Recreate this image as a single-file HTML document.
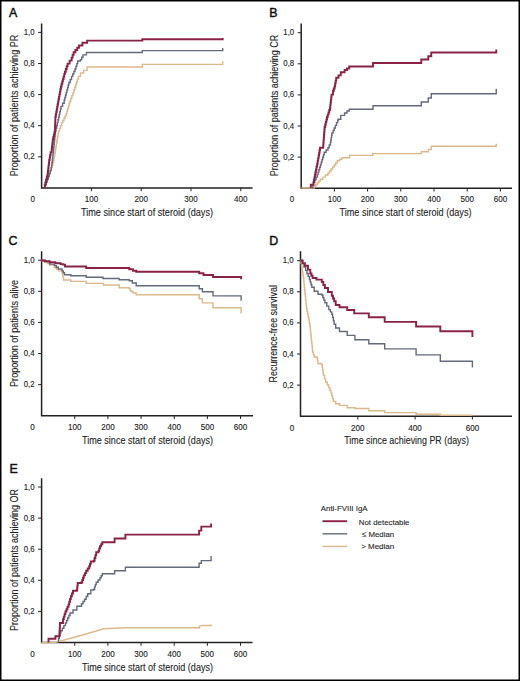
<!DOCTYPE html>
<html><head><meta charset="utf-8"><style>
html,body{margin:0;padding:0;background:#fff;}
body{width:520px;height:681px;overflow:hidden;}
svg{display:block;}
text{font-family:"Liberation Sans", sans-serif;fill:#222;}
.tk{font-size:8.5px;stroke:#222;stroke-width:0.12px;}
.ti{font-size:10.4px;stroke:#222;stroke-width:0.1px;}
.lt{font-size:12.4px;fill:#111;stroke:#111;stroke-width:0.45px;}
.lg{font-size:7.95px;stroke:#222;stroke-width:0.1px;}
</style></head><body>
<svg width="520" height="681" viewBox="0 0 520 681">
<rect x="0.75" y="0.75" width="518.5" height="679.5" fill="#fff" stroke="#000" stroke-width="1.5"/>
<path d="M41.6,23.4 V187.9 H252.5" fill="none" stroke="#222" stroke-width="1.5"/>
<path d="M38.1,156.80 H41.6" stroke="#222" stroke-width="1"/>
<text transform="translate(34.60,159.30) scale(0.92,1)" text-anchor="end" class="tk">0,2</text>
<path d="M38.1,125.70 H41.6" stroke="#222" stroke-width="1"/>
<text transform="translate(34.60,128.20) scale(0.92,1)" text-anchor="end" class="tk">0,4</text>
<path d="M38.1,94.60 H41.6" stroke="#222" stroke-width="1"/>
<text transform="translate(34.60,97.10) scale(0.92,1)" text-anchor="end" class="tk">0,6</text>
<path d="M38.1,63.50 H41.6" stroke="#222" stroke-width="1"/>
<text transform="translate(34.60,66.00) scale(0.92,1)" text-anchor="end" class="tk">0,8</text>
<path d="M38.1,32.40 H41.6" stroke="#222" stroke-width="1"/>
<text transform="translate(34.60,34.90) scale(0.92,1)" text-anchor="end" class="tk">1,0</text>
<path d="M91.40,187.9 V191.20000000000002" stroke="#222" stroke-width="1"/>
<text transform="translate(91.40,202.20) scale(0.95,1)" text-anchor="middle" class="tk">100</text>
<path d="M141.20,187.9 V191.20000000000002" stroke="#222" stroke-width="1"/>
<text transform="translate(141.20,202.20) scale(0.95,1)" text-anchor="middle" class="tk">200</text>
<path d="M191.00,187.9 V191.20000000000002" stroke="#222" stroke-width="1"/>
<text transform="translate(191.00,202.20) scale(0.95,1)" text-anchor="middle" class="tk">300</text>
<path d="M240.80,187.9 V191.20000000000002" stroke="#222" stroke-width="1"/>
<text transform="translate(240.80,202.20) scale(0.95,1)" text-anchor="middle" class="tk">400</text>
<text transform="translate(32.7,202.20) scale(0.95,1)" text-anchor="middle" class="tk">0</text>
<text x="81" y="215.5" class="ti" textLength="132" lengthAdjust="spacingAndGlyphs">Time since start of steroid (days)</text>
<text transform="translate(17.6,176.2) rotate(-90)" x="0" y="0" class="ti" textLength="141.39999999999998" lengthAdjust="spacingAndGlyphs">Proportion of patients achieving PR</text>
<text x="9.0" y="17.3" class="lt" style="font-size:12.4px">A</text>
<path d="M301.2,23.4 V188.2 H512" fill="none" stroke="#222" stroke-width="1.5"/>
<path d="M297.7,157.10 H301.2" stroke="#222" stroke-width="1"/>
<text transform="translate(294.20,159.60) scale(0.92,1)" text-anchor="end" class="tk">0,2</text>
<path d="M297.7,126.00 H301.2" stroke="#222" stroke-width="1"/>
<text transform="translate(294.20,128.50) scale(0.92,1)" text-anchor="end" class="tk">0,4</text>
<path d="M297.7,94.90 H301.2" stroke="#222" stroke-width="1"/>
<text transform="translate(294.20,97.40) scale(0.92,1)" text-anchor="end" class="tk">0,6</text>
<path d="M297.7,63.80 H301.2" stroke="#222" stroke-width="1"/>
<text transform="translate(294.20,66.30) scale(0.92,1)" text-anchor="end" class="tk">0,8</text>
<path d="M297.7,32.70 H301.2" stroke="#222" stroke-width="1"/>
<text transform="translate(294.20,35.20) scale(0.92,1)" text-anchor="end" class="tk">1,0</text>
<path d="M334.40,188.2 V191.5" stroke="#222" stroke-width="1"/>
<text transform="translate(334.40,202.10) scale(0.95,1)" text-anchor="middle" class="tk">100</text>
<path d="M367.60,188.2 V191.5" stroke="#222" stroke-width="1"/>
<text transform="translate(367.60,202.10) scale(0.95,1)" text-anchor="middle" class="tk">200</text>
<path d="M400.80,188.2 V191.5" stroke="#222" stroke-width="1"/>
<text transform="translate(400.80,202.10) scale(0.95,1)" text-anchor="middle" class="tk">300</text>
<path d="M434.00,188.2 V191.5" stroke="#222" stroke-width="1"/>
<text transform="translate(434.00,202.10) scale(0.95,1)" text-anchor="middle" class="tk">400</text>
<path d="M467.20,188.2 V191.5" stroke="#222" stroke-width="1"/>
<text transform="translate(467.20,202.10) scale(0.95,1)" text-anchor="middle" class="tk">500</text>
<path d="M500.40,188.2 V191.5" stroke="#222" stroke-width="1"/>
<text transform="translate(500.40,202.10) scale(0.95,1)" text-anchor="middle" class="tk">600</text>
<text transform="translate(292,202.10) scale(0.95,1)" text-anchor="middle" class="tk">0</text>
<text x="339.5" y="215.5" class="ti" textLength="132.0" lengthAdjust="spacingAndGlyphs">Time since start of steroid (days)</text>
<text transform="translate(277.6,176.2) rotate(-90)" x="0" y="0" class="ti" textLength="141.39999999999998" lengthAdjust="spacingAndGlyphs">Proportion of patients achieving CR</text>
<text x="269.2" y="17.3" class="lt" style="font-size:12.4px">B</text>
<path d="M41.6,251.3 V415.75 H253" fill="none" stroke="#222" stroke-width="1.5"/>
<path d="M38.1,384.65 H41.6" stroke="#222" stroke-width="1"/>
<text transform="translate(34.60,387.15) scale(0.92,1)" text-anchor="end" class="tk">0,2</text>
<path d="M38.1,353.55 H41.6" stroke="#222" stroke-width="1"/>
<text transform="translate(34.60,356.05) scale(0.92,1)" text-anchor="end" class="tk">0,4</text>
<path d="M38.1,322.45 H41.6" stroke="#222" stroke-width="1"/>
<text transform="translate(34.60,324.95) scale(0.92,1)" text-anchor="end" class="tk">0,6</text>
<path d="M38.1,291.35 H41.6" stroke="#222" stroke-width="1"/>
<text transform="translate(34.60,293.85) scale(0.92,1)" text-anchor="end" class="tk">0,8</text>
<path d="M38.1,260.25 H41.6" stroke="#222" stroke-width="1"/>
<text transform="translate(34.60,262.75) scale(0.92,1)" text-anchor="end" class="tk">1,0</text>
<path d="M74.76,415.75 V419.05" stroke="#222" stroke-width="1"/>
<text transform="translate(74.76,430.05) scale(0.95,1)" text-anchor="middle" class="tk">100</text>
<path d="M107.92,415.75 V419.05" stroke="#222" stroke-width="1"/>
<text transform="translate(107.92,430.05) scale(0.95,1)" text-anchor="middle" class="tk">200</text>
<path d="M141.08,415.75 V419.05" stroke="#222" stroke-width="1"/>
<text transform="translate(141.08,430.05) scale(0.95,1)" text-anchor="middle" class="tk">300</text>
<path d="M174.24,415.75 V419.05" stroke="#222" stroke-width="1"/>
<text transform="translate(174.24,430.05) scale(0.95,1)" text-anchor="middle" class="tk">400</text>
<path d="M207.40,415.75 V419.05" stroke="#222" stroke-width="1"/>
<text transform="translate(207.40,430.05) scale(0.95,1)" text-anchor="middle" class="tk">500</text>
<path d="M240.56,415.75 V419.05" stroke="#222" stroke-width="1"/>
<text transform="translate(240.56,430.05) scale(0.95,1)" text-anchor="middle" class="tk">600</text>
<text transform="translate(32.5,430.05) scale(0.95,1)" text-anchor="middle" class="tk">0</text>
<text x="82" y="444.2" class="ti" textLength="131" lengthAdjust="spacingAndGlyphs">Time since start of steroid (days)</text>
<text transform="translate(17.6,386.9) rotate(-90)" x="0" y="0" class="ti" textLength="106.89999999999998" lengthAdjust="spacingAndGlyphs">Proportion of patients alive</text>
<text x="8.6" y="245.4" class="lt" style="font-size:12.4px">C</text>
<path d="M300.5,251.3 V416.2 H512" fill="none" stroke="#222" stroke-width="1.5"/>
<path d="M297.0,385.10 H300.5" stroke="#222" stroke-width="1"/>
<text transform="translate(293.50,387.60) scale(0.92,1)" text-anchor="end" class="tk">0,2</text>
<path d="M297.0,354.00 H300.5" stroke="#222" stroke-width="1"/>
<text transform="translate(293.50,356.50) scale(0.92,1)" text-anchor="end" class="tk">0,4</text>
<path d="M297.0,322.90 H300.5" stroke="#222" stroke-width="1"/>
<text transform="translate(293.50,325.40) scale(0.92,1)" text-anchor="end" class="tk">0,6</text>
<path d="M297.0,291.80 H300.5" stroke="#222" stroke-width="1"/>
<text transform="translate(293.50,294.30) scale(0.92,1)" text-anchor="end" class="tk">0,8</text>
<path d="M297.0,260.70 H300.5" stroke="#222" stroke-width="1"/>
<text transform="translate(293.50,263.20) scale(0.92,1)" text-anchor="end" class="tk">1,0</text>
<path d="M357.80,416.2 V419.5" stroke="#222" stroke-width="1"/>
<text transform="translate(357.80,430.50) scale(0.95,1)" text-anchor="middle" class="tk">200</text>
<path d="M415.10,416.2 V419.5" stroke="#222" stroke-width="1"/>
<text transform="translate(415.10,430.50) scale(0.95,1)" text-anchor="middle" class="tk">400</text>
<path d="M472.40,416.2 V419.5" stroke="#222" stroke-width="1"/>
<text transform="translate(472.40,430.50) scale(0.95,1)" text-anchor="middle" class="tk">600</text>
<text transform="translate(292,430.50) scale(0.95,1)" text-anchor="middle" class="tk">0</text>
<text x="344.2" y="443.9" class="ti" textLength="124.80000000000001" lengthAdjust="spacingAndGlyphs">Time since achieving PR (days)</text>
<text transform="translate(277.4,382.5) rotate(-90)" x="0" y="0" class="ti" textLength="97.39999999999998" lengthAdjust="spacingAndGlyphs">Recurrence-free survival</text>
<text x="269.2" y="245.4" class="lt" style="font-size:12.4px">D</text>
<path d="M41.6,478.3 V642.5 H252.5" fill="none" stroke="#222" stroke-width="1.5"/>
<path d="M38.1,611.40 H41.6" stroke="#222" stroke-width="1"/>
<text transform="translate(34.60,613.90) scale(0.92,1)" text-anchor="end" class="tk">0,2</text>
<path d="M38.1,580.30 H41.6" stroke="#222" stroke-width="1"/>
<text transform="translate(34.60,582.80) scale(0.92,1)" text-anchor="end" class="tk">0,4</text>
<path d="M38.1,549.20 H41.6" stroke="#222" stroke-width="1"/>
<text transform="translate(34.60,551.70) scale(0.92,1)" text-anchor="end" class="tk">0,6</text>
<path d="M38.1,518.10 H41.6" stroke="#222" stroke-width="1"/>
<text transform="translate(34.60,520.60) scale(0.92,1)" text-anchor="end" class="tk">0,8</text>
<path d="M38.1,487.00 H41.6" stroke="#222" stroke-width="1"/>
<text transform="translate(34.60,489.50) scale(0.92,1)" text-anchor="end" class="tk">1,0</text>
<path d="M74.75,642.5 V645.8" stroke="#222" stroke-width="1"/>
<text transform="translate(74.75,656.80) scale(0.95,1)" text-anchor="middle" class="tk">100</text>
<path d="M107.90,642.5 V645.8" stroke="#222" stroke-width="1"/>
<text transform="translate(107.90,656.80) scale(0.95,1)" text-anchor="middle" class="tk">200</text>
<path d="M141.05,642.5 V645.8" stroke="#222" stroke-width="1"/>
<text transform="translate(141.05,656.80) scale(0.95,1)" text-anchor="middle" class="tk">300</text>
<path d="M174.20,642.5 V645.8" stroke="#222" stroke-width="1"/>
<text transform="translate(174.20,656.80) scale(0.95,1)" text-anchor="middle" class="tk">400</text>
<path d="M207.35,642.5 V645.8" stroke="#222" stroke-width="1"/>
<text transform="translate(207.35,656.80) scale(0.95,1)" text-anchor="middle" class="tk">500</text>
<path d="M240.50,642.5 V645.8" stroke="#222" stroke-width="1"/>
<text transform="translate(240.50,656.80) scale(0.95,1)" text-anchor="middle" class="tk">600</text>
<text transform="translate(32.5,656.80) scale(0.95,1)" text-anchor="middle" class="tk">0</text>
<text x="82" y="671.1" class="ti" textLength="131" lengthAdjust="spacingAndGlyphs">Time since start of steroid (days)</text>
<text transform="translate(17.6,631) rotate(-90)" x="0" y="0" class="ti" textLength="142" lengthAdjust="spacingAndGlyphs">Proportion of patients achieving OR</text>
<text x="9.6" y="472.6" class="lt" style="font-size:12.4px">E</text>
<path d="M44.20,187.50 L45.20,187.50 L45.20,184.75 L46.20,184.75 L46.20,182.00 L47.20,182.00 L47.20,179.25 L48.20,179.25 L48.20,176.50 L49.20,176.50 L49.20,173.53 L50.20,173.53 L50.20,170.57 L51.20,170.57 L51.20,167.60 L51.97,167.60 L51.97,165.27 L52.73,165.27 L52.73,162.93 L53.50,162.93 L53.50,160.60 L53.91,160.60 L53.91,158.14 L54.33,158.14 L54.33,155.69 L54.74,155.69 L54.74,153.23 L55.16,153.23 L55.16,150.77 L55.57,150.77 L55.57,148.31 L55.99,148.31 L55.99,145.86 L56.40,145.86 L56.40,143.40 L56.82,143.40 L56.82,140.94 L57.24,140.94 L57.24,138.48 L57.66,138.48 L57.66,136.02 L58.08,136.02 L58.08,133.56 L58.50,133.56 L58.50,131.10 L59.53,131.10 L59.53,128.37 L60.57,128.37 L60.57,125.63 L61.60,125.63 L61.60,122.90 L62.75,122.90 L62.75,120.58 L63.90,120.58 L63.90,118.25 L65.05,118.25 L65.05,115.92 L66.20,115.92 L66.20,113.60 L66.92,113.60 L66.92,111.14 L67.64,111.14 L67.64,108.68 L68.36,108.68 L68.36,106.22 L69.08,106.22 L69.08,103.76 L69.80,103.76 L69.80,101.30 L70.83,101.30 L70.83,98.47 L71.85,98.47 L71.85,95.65 L72.88,95.65 L72.88,92.83 L73.90,92.83 L73.90,90.00 L74.80,90.00 L74.80,87.28 L75.70,87.28 L75.70,84.56 L76.60,84.56 L76.60,81.84 L77.50,81.84 L77.50,79.12 L78.40,79.12 L78.40,76.40 L80.40,76.40 L80.40,73.00 L83.70,73.00 L83.70,70.40 L87.10,70.40 L87.10,67.00 L142.30,67.00 L142.30,64.40 L222.70,64.40 L222.70,61.30" fill="none" stroke="#dbb98a" stroke-width="1.4" stroke-linejoin="miter"/>
<path d="M44.20,187.50 L45.20,187.50 L45.20,184.75 L46.20,184.75 L46.20,182.00 L47.20,182.00 L47.20,179.25 L48.20,179.25 L48.20,176.50 L49.20,176.50 L49.20,173.53 L50.20,173.53 L50.20,170.57 L51.20,170.57 L51.20,167.60 L51.57,167.60 L51.57,165.07 L51.93,165.07 L51.93,162.53 L52.30,162.53 L52.30,160.00 L52.58,160.00 L52.58,157.37 L52.86,157.37 L52.86,154.75 L53.15,154.75 L53.15,152.12 L53.43,152.12 L53.43,149.49 L53.71,149.49 L53.71,146.86 L53.99,146.86 L53.99,144.24 L54.27,144.24 L54.27,141.61 L54.55,141.61 L54.55,138.98 L54.84,138.98 L54.84,136.35 L55.12,136.35 L55.12,133.73 L55.40,133.73 L55.40,131.10 L56.05,131.10 L56.05,128.28 L56.70,128.28 L56.70,125.45 L57.35,125.45 L57.35,122.62 L58.00,122.62 L58.00,119.80 L58.60,119.80 L58.60,117.12 L59.20,117.12 L59.20,114.44 L59.80,114.44 L59.80,111.76 L60.40,111.76 L60.40,109.08 L61.00,109.08 L61.00,106.40 L62.60,106.40 L62.60,103.20 L64.20,103.20 L64.20,100.00 L64.87,100.00 L64.87,97.50 L65.54,97.50 L65.54,95.00 L66.21,95.00 L66.21,92.50 L66.89,92.50 L66.89,90.00 L67.56,90.00 L67.56,87.50 L68.23,87.50 L68.23,85.00 L68.90,85.00 L68.90,82.50 L70.25,82.50 L70.25,79.45 L71.60,79.45 L71.60,76.40 L72.73,76.40 L72.73,73.93 L73.87,73.93 L73.87,71.47 L75.00,71.47 L75.00,69.00 L75.90,69.00 L75.90,66.33 L76.80,66.33 L76.80,63.67 L77.70,63.67 L77.70,61.00 L80.40,61.00 L80.40,59.60 L81.70,59.60 L81.70,57.25 L83.00,57.25 L83.00,54.90 L86.40,54.90 L86.40,52.50 L142.30,52.50 L142.30,50.60 L222.70,50.60 L222.70,48.00" fill="none" stroke="#636b7a" stroke-width="1.4" stroke-linejoin="miter"/>
<path d="M44.20,187.50 L44.75,187.50 L44.75,184.95 L45.30,184.95 L45.30,182.40 L46.07,182.40 L46.07,179.43 L46.83,179.43 L46.83,176.47 L47.60,176.47 L47.60,173.50 L47.92,173.50 L47.92,170.80 L48.24,170.80 L48.24,168.10 L48.56,168.10 L48.56,165.40 L48.88,165.40 L48.88,162.70 L49.20,162.70 L49.20,160.00 L49.67,160.00 L49.67,157.47 L50.13,157.47 L50.13,154.93 L50.60,154.93 L50.60,152.40 L51.40,152.40 L51.40,151.70 L51.68,151.70 L51.68,149.22 L51.96,149.22 L51.96,146.74 L52.24,146.74 L52.24,144.26 L52.52,144.26 L52.52,141.78 L52.80,141.78 L52.80,139.30 L53.32,139.30 L53.32,136.98 L53.85,136.98 L53.85,134.65 L54.38,134.65 L54.38,132.32 L54.90,132.32 L54.90,130.00 L55.00,130.00 L55.00,127.34 L55.10,127.34 L55.10,124.68 L55.20,124.68 L55.20,122.02 L55.30,122.02 L55.30,119.36 L55.40,119.36 L55.40,116.70 L55.84,116.70 L55.84,114.20 L56.29,114.20 L56.29,111.70 L56.73,111.70 L56.73,109.20 L57.17,109.20 L57.17,106.70 L57.61,106.70 L57.61,104.20 L58.06,104.20 L58.06,101.70 L58.50,101.70 L58.50,99.20 L58.98,99.20 L58.98,96.66 L59.46,96.66 L59.46,94.12 L59.94,94.12 L59.94,91.58 L60.42,91.58 L60.42,89.04 L60.90,89.04 L60.90,86.50 L61.57,86.50 L61.57,84.03 L62.23,84.03 L62.23,81.57 L62.90,81.57 L62.90,79.10 L63.57,79.10 L63.57,76.63 L64.23,76.63 L64.23,74.17 L64.90,74.17 L64.90,71.70 L65.80,71.70 L65.80,69.00 L66.70,69.00 L66.70,66.30 L67.60,66.30 L67.60,63.60 L69.60,63.60 L69.60,60.60 L71.60,60.60 L71.60,57.60 L72.60,57.60 L72.60,54.90 L73.60,54.90 L73.60,52.20 L75.40,52.20 L75.40,49.97 L77.20,49.97 L77.20,47.73 L79.00,47.73 L79.00,45.50 L82.40,45.50 L82.40,42.80 L87.10,42.80 L87.10,40.60 L142.30,40.60 L142.30,39.20 L222.70,39.20 L222.70,38.00" fill="none" stroke="#8a2248" stroke-width="1.9" stroke-linejoin="miter"/>
<path d="M301.30,188.00 L312.70,188.00 L314.24,188.00 L314.24,186.24 L315.78,186.24 L315.78,184.48 L317.32,184.48 L317.32,182.72 L318.86,182.72 L318.86,180.96 L320.40,180.96 L320.40,179.20 L322.93,179.20 L322.93,177.13 L325.47,177.13 L325.47,175.07 L328.00,175.07 L328.00,173.00 L329.57,173.00 L329.57,171.00 L331.13,171.00 L331.13,169.00 L332.70,169.00 L332.70,167.00 L334.23,167.00 L334.23,164.93 L335.77,164.93 L335.77,162.87 L337.30,162.87 L337.30,160.80 L339.60,160.80 L339.60,159.25 L341.90,159.25 L341.90,157.70 L349.60,157.70 L349.60,155.40 L372.70,155.40 L372.70,153.60 L421.25,153.60 L421.25,151.75 L428.25,151.75 L428.25,149.50 L431.25,149.50 L431.25,146.25 L496.25,146.25 L496.25,143.75" fill="none" stroke="#dbb98a" stroke-width="1.4" stroke-linejoin="miter"/>
<path d="M312.00,188.00 L312.75,188.00 L312.75,185.15 L313.50,185.15 L313.50,182.30 L314.77,182.30 L314.77,179.73 L316.03,179.73 L316.03,177.17 L317.30,177.17 L317.30,174.60 L318.08,174.60 L318.08,172.14 L318.86,172.14 L318.86,169.68 L319.64,169.68 L319.64,167.22 L320.42,167.22 L320.42,164.76 L321.20,164.76 L321.20,162.30 L321.95,162.30 L321.95,159.80 L322.70,159.80 L322.70,157.30 L323.45,157.30 L323.45,154.80 L324.20,154.80 L324.20,152.30 L326.10,152.30 L326.10,150.00 L328.00,150.00 L328.00,147.70 L329.20,147.70 L329.20,145.00 L330.40,145.00 L330.40,142.30 L330.80,142.30 L330.80,139.98 L331.20,139.98 L331.20,137.65 L331.60,137.65 L331.60,135.32 L332.00,135.32 L332.00,133.00 L333.10,133.00 L333.10,130.50 L334.20,130.50 L334.20,128.00 L335.37,128.00 L335.37,125.33 L336.53,125.33 L336.53,122.67 L337.70,122.67 L337.70,120.00 L338.50,120.00 L338.50,119.20 L340.80,119.20 L340.80,115.40 L344.60,115.40 L344.60,113.00 L347.00,113.00 L347.00,111.00 L349.20,111.00 L349.20,109.20 L373.00,109.20 L373.00,105.80 L421.25,105.80 L421.25,102.00 L428.25,102.00 L428.25,98.00 L431.25,98.00 L431.25,93.75 L496.25,93.75 L496.25,88.75" fill="none" stroke="#636b7a" stroke-width="1.4" stroke-linejoin="miter"/>
<path d="M310.80,188.00 L310.80,184.60 L313.00,184.60 L313.48,184.60 L313.48,182.14 L313.96,182.14 L313.96,179.68 L314.44,179.68 L314.44,177.22 L314.92,177.22 L314.92,174.76 L315.40,174.76 L315.40,172.30 L315.97,172.30 L315.97,169.43 L316.55,169.43 L316.55,166.55 L317.12,166.55 L317.12,163.68 L317.70,163.68 L317.70,160.80 L318.16,160.80 L318.16,158.18 L318.62,158.18 L318.62,155.56 L319.08,155.56 L319.08,152.94 L319.54,152.94 L319.54,150.32 L320.00,150.32 L320.00,147.70 L323.00,147.70 L323.20,147.70 L323.20,145.11 L323.40,145.11 L323.40,142.52 L323.60,142.52 L323.60,139.94 L323.80,139.94 L323.80,137.35 L324.00,137.35 L324.00,134.76 L324.20,134.76 L324.20,132.18 L324.40,132.18 L324.40,129.59 L324.60,129.59 L324.60,127.00 L325.20,127.00 L325.20,124.50 L325.80,124.50 L325.80,122.00 L326.40,122.00 L326.40,119.50 L327.00,119.50 L327.00,117.00 L327.75,117.00 L327.75,114.67 L328.50,114.67 L328.50,112.35 L329.25,112.35 L329.25,110.03 L330.00,110.03 L330.00,107.70 L330.30,107.70 L330.30,105.08 L330.60,105.08 L330.60,102.46 L330.90,102.46 L330.90,99.84 L331.20,99.84 L331.20,97.22 L331.50,97.22 L331.50,94.60 L333.00,94.60 L333.00,90.80 L333.80,90.80 L333.80,88.50 L334.60,88.50 L334.60,86.20 L335.13,86.20 L335.13,83.37 L335.67,83.37 L335.67,80.53 L336.20,80.53 L336.20,77.70 L338.50,77.70 L338.50,75.40 L340.80,75.40 L340.80,72.30 L344.60,72.30 L344.60,70.00 L347.00,70.00 L347.00,68.50 L349.20,68.50 L349.20,66.50 L373.00,66.50 L373.00,63.00 L421.25,63.00 L421.25,59.50 L428.25,59.50 L428.25,56.25 L431.25,56.25 L431.25,52.50 L496.25,52.50 L496.25,49.50" fill="none" stroke="#8a2248" stroke-width="1.9" stroke-linejoin="miter"/>
<path d="M41.50,260.50 L44.80,260.50 L44.80,261.80 L47.20,261.80 L47.20,263.45 L49.60,263.45 L49.60,265.10 L54.40,265.10 L54.40,267.50 L56.35,267.50 L56.35,269.20 L58.30,269.20 L58.30,270.90 L62.10,270.90 L62.10,273.30 L62.60,273.30 L62.60,275.53 L63.10,275.53 L63.10,277.77 L63.60,277.77 L63.60,280.00 L70.80,280.00 L70.80,281.40 L86.20,281.40 L86.20,283.40 L103.50,283.40 L103.50,285.00 L119.20,285.00 L119.20,287.70 L129.20,287.70 L129.20,288.50 L130.00,288.50 L130.00,290.00 L130.80,290.00 L130.80,291.50 L133.00,291.50 L133.00,293.00 L136.20,293.00 L136.20,294.80 L199.20,294.80 L199.20,298.70 L202.40,298.70 L202.40,302.90 L213.00,302.90 L213.00,307.75 L241.10,307.75 L241.10,313.50" fill="none" stroke="#dbb98a" stroke-width="1.4" stroke-linejoin="miter"/>
<path d="M41.50,260.50 L44.80,260.50 L44.80,261.50 L49.60,261.50 L49.60,264.10 L54.40,264.10 L54.40,265.60 L56.35,265.60 L56.35,267.30 L58.30,267.30 L58.30,269.00 L62.10,269.00 L62.10,270.90 L63.30,270.90 L63.30,272.80 L64.50,272.80 L64.50,274.70 L70.80,274.70 L70.80,275.70 L86.20,275.70 L86.20,277.20 L103.00,277.20 L103.00,278.50 L119.20,278.50 L119.20,279.70 L129.20,279.70 L129.20,280.80 L132.30,280.80 L132.30,283.00 L136.20,283.00 L136.20,285.80 L199.20,285.80 L199.20,288.70 L202.40,288.70 L202.40,291.70 L213.00,291.70 L213.00,295.90 L241.10,295.90 L241.10,300.80" fill="none" stroke="#636b7a" stroke-width="1.4" stroke-linejoin="miter"/>
<path d="M41.50,260.50 L44.80,260.50 L44.80,261.25 L49.60,261.25 L49.60,262.20 L55.40,262.20 L55.40,263.20 L60.70,263.20 L60.70,264.10 L63.10,264.10 L63.10,264.60 L65.00,264.60 L65.00,266.50 L86.20,266.50 L86.20,268.00 L118.50,268.00 L129.20,268.00 L129.20,269.20 L133.00,269.20 L133.00,270.80 L136.20,270.80 L136.20,271.80 L199.20,271.80 L199.20,273.30 L203.50,273.30 L203.50,275.00 L213.00,275.00 L213.00,277.00 L241.10,277.00 L241.10,279.20" fill="none" stroke="#8a2248" stroke-width="1.9" stroke-linejoin="miter"/>
<path d="M300.50,260.50 L300.98,260.50 L300.98,263.42 L301.47,263.42 L301.47,266.33 L301.95,266.33 L301.95,269.25 L302.43,269.25 L302.43,272.17 L302.92,272.17 L302.92,275.08 L303.40,275.08 L303.40,278.00 L303.71,278.00 L303.71,281.08 L304.02,281.08 L304.02,284.16 L304.33,284.16 L304.33,287.24 L304.64,287.24 L304.64,290.32 L304.95,290.32 L304.95,293.40 L305.26,293.40 L305.26,296.48 L305.57,296.48 L305.57,299.56 L305.88,299.56 L305.88,302.64 L306.19,302.64 L306.19,305.72 L306.50,305.72 L306.50,308.80 L307.07,308.80 L307.07,311.60 L307.65,311.60 L307.65,314.40 L308.23,314.40 L308.23,317.20 L308.80,317.20 L308.80,320.00 L309.30,320.00 L309.30,323.07 L309.80,323.07 L309.80,326.13 L310.30,326.13 L310.30,329.20 L310.59,329.20 L310.59,332.09 L310.88,332.09 L310.88,334.98 L311.16,334.98 L311.16,337.86 L311.45,337.86 L311.45,340.75 L311.74,340.75 L311.74,343.64 L312.03,343.64 L312.03,346.52 L312.31,346.52 L312.31,349.41 L312.60,349.41 L312.60,352.30 L313.40,352.30 L313.40,354.65 L314.20,354.65 L314.20,357.00 L317.20,357.00 L317.20,358.50 L317.60,358.50 L317.60,361.15 L318.00,361.15 L318.00,363.80 L321.80,363.80 L321.80,364.60 L322.20,364.60 L322.20,367.30 L322.60,367.30 L322.60,370.00 L323.00,370.00 L323.00,372.70 L323.40,372.70 L323.40,375.40 L324.55,375.40 L324.55,378.85 L325.70,378.85 L325.70,382.30 L327.25,382.30 L327.25,385.00 L328.80,385.00 L328.80,387.70 L329.90,387.70 L329.90,390.35 L331.00,390.35 L331.00,393.00 L331.80,393.00 L331.80,395.83 L332.60,395.83 L332.60,398.67 L333.40,398.67 L333.40,401.50 L335.70,401.50 L335.70,403.80 L339.50,403.80 L339.50,405.40 L347.20,405.40 L347.20,407.70 L354.90,407.70 L354.90,408.50 L368.80,408.50 L368.80,410.80 L384.70,410.80 L384.70,412.60 L416.10,412.60 L416.10,414.20 L440.30,414.20 L440.30,415.20 L472.40,415.20" fill="none" stroke="#dbb98a" stroke-width="1.4" stroke-linejoin="miter"/>
<path d="M300.50,260.50 L302.23,260.50 L302.23,263.80 L303.97,263.80 L303.97,267.10 L305.70,267.10 L305.70,270.40 L306.97,270.40 L306.97,273.47 L308.23,273.47 L308.23,276.53 L309.50,276.53 L309.50,279.60 L310.27,279.60 L310.27,282.17 L311.03,282.17 L311.03,284.73 L311.80,284.73 L311.80,287.30 L314.20,287.30 L314.20,291.20 L318.00,291.20 L318.00,294.20 L321.80,294.20 L321.80,295.00 L322.83,295.00 L322.83,297.57 L323.87,297.57 L323.87,300.13 L324.90,300.13 L324.90,302.70 L326.85,302.70 L326.85,306.15 L328.80,306.15 L328.80,309.60 L330.30,309.60 L330.30,311.90 L331.80,311.90 L331.80,314.20 L332.60,314.20 L332.60,317.53 L333.40,317.53 L333.40,320.87 L334.20,320.87 L334.20,324.20 L335.70,324.20 L335.70,328.00 L339.50,328.00 L339.50,331.50 L347.20,331.50 L347.20,335.40 L354.90,335.40 L354.90,339.70 L368.80,339.70 L368.80,343.80 L384.70,343.80 L384.70,348.90 L416.10,348.90 L416.10,354.90 L440.30,354.90 L440.30,361.20 L472.40,361.20 L472.40,367.40" fill="none" stroke="#636b7a" stroke-width="1.4" stroke-linejoin="miter"/>
<path d="M300.50,260.50 L302.70,260.50 L302.70,263.15 L304.90,263.15 L304.90,265.80 L308.00,265.80 L308.00,269.60 L310.30,269.60 L310.30,273.50 L311.45,273.50 L311.45,275.75 L312.60,275.75 L312.60,278.00 L316.50,278.00 L316.50,279.60 L321.80,279.60 L321.80,282.00 L323.35,282.00 L323.35,285.00 L324.90,285.00 L324.90,288.00 L328.00,288.00 L328.00,292.00 L331.80,292.00 L331.80,295.80 L333.00,295.80 L333.00,298.50 L334.20,298.50 L334.20,301.20 L335.70,301.20 L335.70,305.00 L339.50,305.00 L339.50,307.30 L347.20,307.30 L347.20,310.00 L354.20,310.00 L354.20,313.40 L368.80,313.40 L368.80,317.30 L384.70,317.30 L384.70,321.90 L416.10,321.90 L416.10,326.50 L440.30,326.50 L440.30,331.20 L472.40,331.20 L472.40,336.90" fill="none" stroke="#8a2248" stroke-width="1.9" stroke-linejoin="miter"/>
<path d="M41.50,642.50 L55.80,642.30 L79.00,636.00 L103.80,628.80 L126.90,627.70 L199.50,627.70 L199.50,626.20 L202.00,625.50 L211.10,625.50 L211.10,624.50" fill="none" stroke="#dbb98a" stroke-width="1.4" stroke-linejoin="miter"/>
<path d="M58.50,642.50 L58.50,638.50 L59.27,638.50 L59.27,635.93 L60.03,635.93 L60.03,633.37 L60.80,633.37 L60.80,630.80 L62.33,630.80 L62.33,628.20 L63.87,628.20 L63.87,625.60 L65.40,625.60 L65.40,623.00 L66.55,623.00 L66.55,620.50 L67.70,620.50 L67.70,618.00 L68.85,618.00 L68.85,615.50 L70.00,615.50 L70.00,613.00 L73.00,613.00 L73.00,610.00 L76.90,610.00 L76.90,606.20 L81.50,606.20 L81.50,603.80 L83.05,603.80 L83.05,601.50 L84.60,601.50 L84.60,599.20 L86.15,599.20 L86.15,596.50 L87.70,596.50 L87.70,593.80 L90.80,593.80 L90.80,590.00 L93.80,590.00 L93.80,589.20 L94.60,589.20 L94.60,586.90 L95.40,586.90 L95.40,584.60 L96.20,584.60 L96.20,582.30 L98.10,582.30 L98.10,580.00 L100.00,580.00 L100.00,577.70 L101.15,577.70 L101.15,575.75 L102.30,575.75 L102.30,573.80 L114.60,573.80 L114.60,570.80 L125.40,570.80 L125.40,567.20 L199.10,567.20 L199.10,563.30 L201.30,563.30 L201.30,560.60 L211.10,560.60 L211.10,555.90" fill="none" stroke="#636b7a" stroke-width="1.4" stroke-linejoin="miter"/>
<path d="M48.50,642.50 L48.50,638.80 L55.40,638.80 L55.40,636.20 L59.20,636.20 L59.36,636.20 L59.36,633.56 L59.52,633.56 L59.52,630.92 L59.68,630.92 L59.68,628.28 L59.84,628.28 L59.84,625.64 L60.00,625.64 L60.00,623.00 L63.00,623.00 L63.00,619.20 L63.80,619.20 L63.80,616.63 L64.60,616.63 L64.60,614.07 L65.40,614.07 L65.40,611.50 L66.43,611.50 L66.43,609.20 L67.47,609.20 L67.47,606.90 L68.50,606.90 L68.50,604.60 L69.27,604.60 L69.27,601.80 L70.03,601.80 L70.03,599.00 L70.80,599.00 L70.80,596.20 L71.90,596.20 L71.90,593.50 L73.00,593.50 L73.00,590.80 L76.90,590.80 L76.90,590.00 L77.17,590.00 L77.17,587.67 L77.43,587.67 L77.43,585.33 L77.70,585.33 L77.70,583.00 L81.50,583.00 L81.50,582.30 L82.27,582.30 L82.27,580.00 L83.03,580.00 L83.03,577.70 L83.80,577.70 L83.80,575.40 L85.00,575.40 L85.00,573.10 L86.20,573.10 L86.20,570.80 L87.70,570.80 L87.70,568.50 L89.20,568.50 L89.20,566.20 L90.00,566.20 L90.00,563.85 L90.80,563.85 L90.80,561.50 L93.80,561.50 L93.80,560.80 L94.60,560.80 L94.60,557.97 L95.40,557.97 L95.40,555.13 L96.20,555.13 L96.20,552.30 L98.50,552.30 L98.50,550.80 L99.25,550.80 L99.25,548.50 L100.00,548.50 L100.00,546.20 L101.15,546.20 L101.15,544.25 L102.30,544.25 L102.30,542.30 L114.60,542.30 L114.60,538.50 L125.40,538.50 L125.40,534.60 L199.10,534.60 L199.10,530.60 L201.30,530.60 L201.30,526.60 L211.10,526.60 L211.10,523.40" fill="none" stroke="#8a2248" stroke-width="1.9" stroke-linejoin="miter"/>
<text x="320.8" y="510.6" class="lg" textLength="46.7" lengthAdjust="spacingAndGlyphs">Anti-FVIII IgA</text>
<path d="M322.5,521.2 H347.2" stroke="#8a2248" stroke-width="1.9"/>
<path d="M322.5,533.8 H347.2" stroke="#636b7a" stroke-width="1.4"/>
<path d="M322.5,546.4 H347.2" stroke="#dbb98a" stroke-width="1.4"/>
<text x="358.8" y="524.5" class="lg" textLength="50.7" lengthAdjust="spacingAndGlyphs">Not detectable</text>
<text x="361.9" y="536.8" class="lg" textLength="32.3" lengthAdjust="spacingAndGlyphs">≤ Median</text>
<text x="361.2" y="549.2" class="lg" textLength="33" lengthAdjust="spacingAndGlyphs">&gt; Median</text>
</svg></body></html>
